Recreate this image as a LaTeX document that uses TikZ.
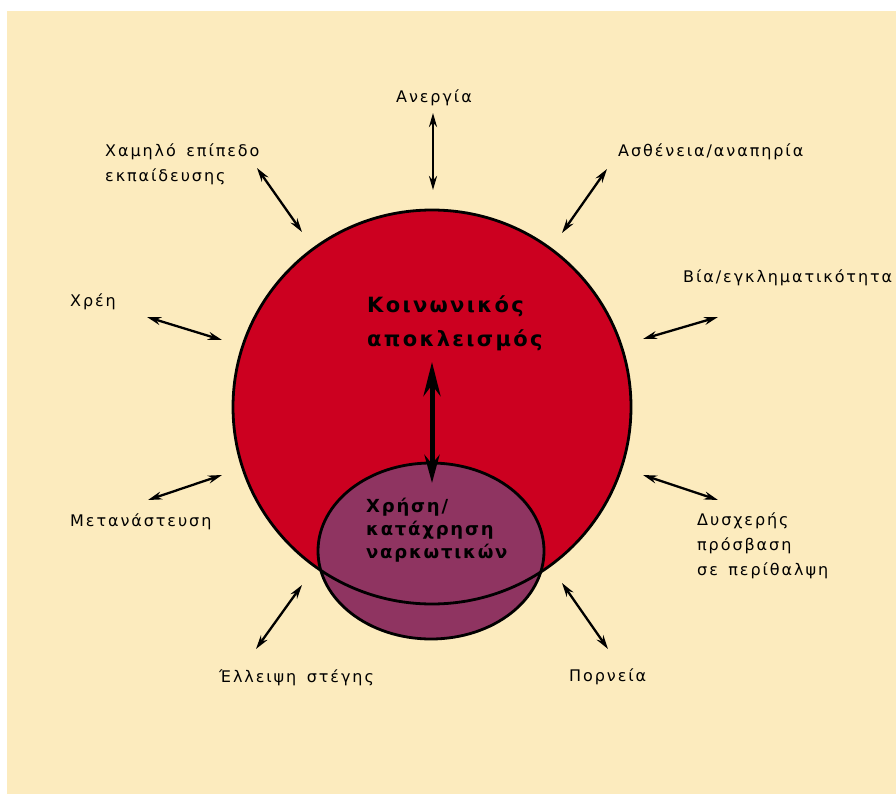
\documentclass[tikz,border=0pt]{standalone}
\usepackage{fontspec}
\setmainfont{DejaVu Sans}
\newfontfamily\labfont[LetterSpace=12,WordSpace=1.5]{DejaVu Sans}
\newfontfamily\titfont[LetterSpace=11]{DejaVu Sans}
\newfontfamily\drugfont[LetterSpace=10]{DejaVu Sans}
\usetikzlibrary{arrows.meta}
\definecolor{bg}{RGB}{252,235,190}
\definecolor{bigred}{RGB}{204,0,32}
\definecolor{purp}{RGB}{143,52,97}
\tikzset{
  lab/.style={inner sep=0pt, anchor=base west, align=left, text=black,
    font={\labfont\fontsize{16}{25}\selectfont}},
  tit/.style={inner sep=0pt, anchor=base west, align=left, text=black,
    font={\titfont\bfseries\fontsize{21}{34}\selectfont}},
  drug/.style={inner sep=0pt, anchor=base west, align=left, text=black,
    font={\drugfont\bfseries\fontsize{18}{23}\selectfont}},
  biarrow/.style={{Stealth[length=14pt,width=8pt]}-{Stealth[length=14pt,width=8pt]}, line width=2.3pt},
  bigarrow/.style={{Stealth[length=34pt,width=17pt]}-{Stealth[length=28pt,width=15pt]}, line width=5pt},
  outline/.style={draw=black, line width=2.8pt}
}
\begin{document}
\begin{tikzpicture}[x=1pt,y=-1pt]
\useasboundingbox (0,0) rectangle (896,794);
\fill[white] (0,0) rectangle (896,794);
\fill[bg] (7,11) rectangle (896,794);
% circles
\fill[bigred] (432,407) ellipse [x radius=199, y radius=197];
\fill[purp] (431,551) ellipse [x radius=113, y radius=88];
\draw[outline] (432,407) ellipse [x radius=199, y radius=197];
\draw[outline] (431,551) ellipse [x radius=113, y radius=88];
% central texts (anchor = baseline of last line)
\node[tit] (excl) at (367,346) {Κοινωνικός\\αποκλεισμός};
\node[drug] (drugs) at (366,558) {Χρήση/\\κατάχρηση\\ναρκωτικών};
% labels
\node[lab, anchor=base] (unemp) at (434,103) {Ανεργία};
\node[lab] (edu) at (105,182) {Χαμηλό επίπεδο\\εκπαίδευσης};
\node[lab] (ill) at (618,157) {Ασθένεια/αναπηρία};
\node[lab] (viol) at (683,282) {Βία/εγκληματικότητα};
\node[lab] (debt) at (70,306) {Χρέη};
\node[lab] (migr) at (70,526) {Μετανάστευση};
\node[lab] (home) at (219,682) {Έλλειψη στέγης};
\node[lab] (prost) at (569,681) {Πορνεία};
\node[lab] (care) at (697,575) {Δυσχερής\\πρόσβαση\\σε περίθαλψη};
% arrow end points
\coordinate (a1) at (433,113); \coordinate (b1) at (433,190);
\coordinate (a2) at (257,168); \coordinate (b2) at (302,232);
\coordinate (a3) at (607,169); \coordinate (b3) at (562,233);
\coordinate (a4) at (718,317); \coordinate (b4) at (643,339);
\coordinate (a5) at (147,317); \coordinate (b5) at (222,340);
\coordinate (a6) at (148,500); \coordinate (b6) at (222,475);
\coordinate (a7) at (256,649); \coordinate (b7) at (302,585);
\coordinate (a8) at (608,649); \coordinate (b8) at (562,583);
\coordinate (a9) at (718,500); \coordinate (b9) at (643,475);
\coordinate (c1) at (432,362); \coordinate (c2) at (432,483);
\foreach \i in {1,...,9} \draw[biarrow] (a\i) -- (b\i);
\draw[bigarrow] (c1) -- (c2);
\end{tikzpicture}
\end{document}
